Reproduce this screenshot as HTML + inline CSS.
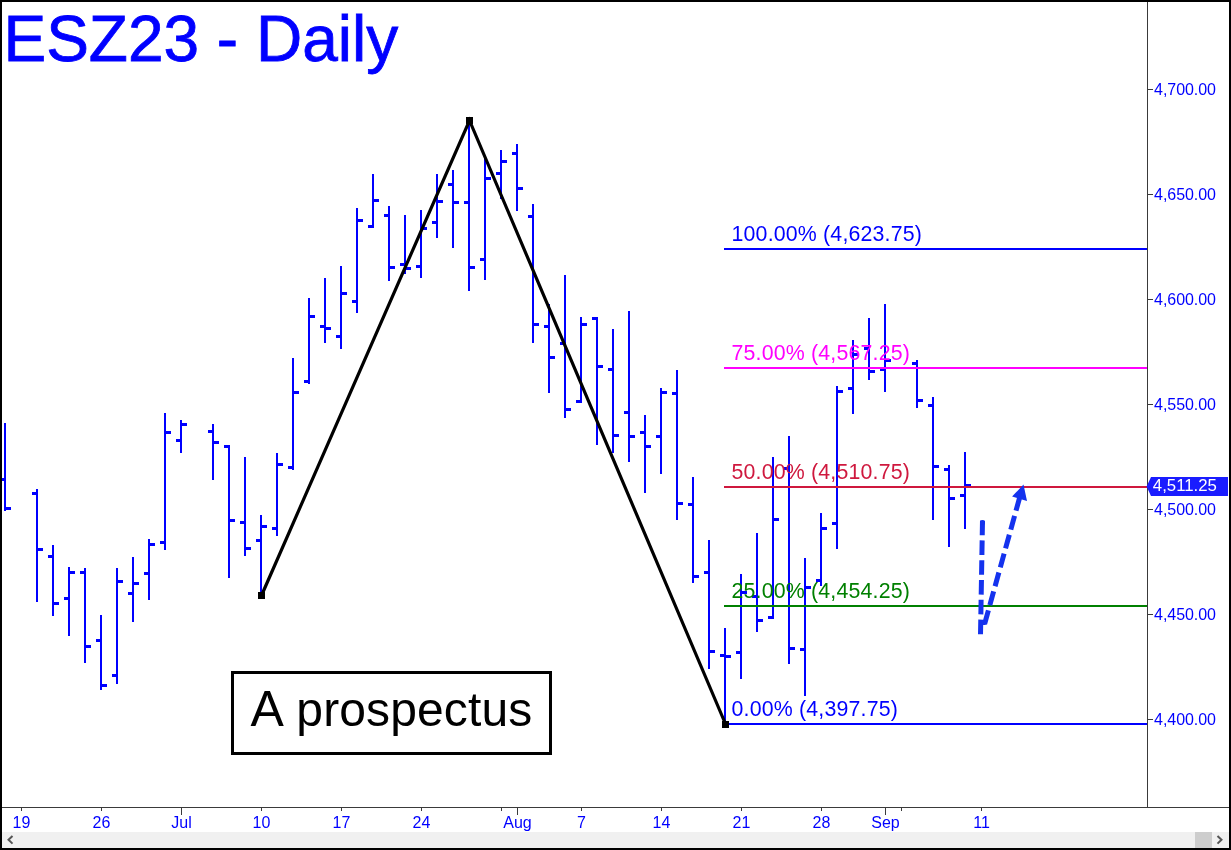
<!DOCTYPE html>
<html lang="en"><head><meta charset="utf-8"><title>ESZ23 - Daily</title>
<style>html,body{margin:0;padding:0;background:#fff;}body{width:1231px;height:850px;overflow:hidden;}svg{display:block;}text{font-family:"Liberation Sans",Arial,sans-serif;}</style></head><body>
<svg width="1231" height="850" viewBox="0 0 1231 850">
<rect x="0" y="0" width="1231" height="850" fill="#fff"/>
<g shape-rendering="crispEdges">
<rect x="2" y="832" width="1227" height="16" fill="#f0f0f0"/>
<rect x="1195" y="832" width="17" height="16" fill="#cdcdcd"/>
</g>
<path d="M12.5 836 L8.5 839.8 L12.5 843.6" fill="none" stroke="#555" stroke-width="2"/>
<path d="M1217.5 836 L1221.5 839.8 L1217.5 843.6" fill="none" stroke="#555" stroke-width="2"/>
<g fill="#0000ff" shape-rendering="crispEdges">
<rect x="4" y="423" width="2" height="88"/>
<rect x="0" y="478" width="4" height="3"/>
<rect x="6" y="507" width="5" height="3"/>
<rect x="36" y="489" width="2" height="113"/>
<rect x="32" y="492" width="4" height="3"/>
<rect x="38" y="548" width="5" height="3"/>
<rect x="52" y="545" width="2" height="71"/>
<rect x="48" y="555" width="4" height="3"/>
<rect x="54" y="602" width="5" height="3"/>
<rect x="68" y="567" width="2" height="69"/>
<rect x="64" y="597" width="4" height="3"/>
<rect x="70" y="571" width="5" height="3"/>
<rect x="84" y="568" width="2" height="95"/>
<rect x="80" y="571" width="4" height="3"/>
<rect x="86" y="645" width="5" height="3"/>
<rect x="100" y="615" width="2" height="75"/>
<rect x="96" y="639" width="4" height="3"/>
<rect x="102" y="684" width="5" height="3"/>
<rect x="116" y="568" width="2" height="116"/>
<rect x="112" y="674" width="4" height="3"/>
<rect x="118" y="580" width="5" height="3"/>
<rect x="132" y="557" width="2" height="65"/>
<rect x="128" y="592" width="4" height="3"/>
<rect x="134" y="582" width="5" height="3"/>
<rect x="148" y="539" width="2" height="61"/>
<rect x="144" y="572" width="4" height="3"/>
<rect x="150" y="543" width="5" height="3"/>
<rect x="164" y="413" width="2" height="137"/>
<rect x="160" y="541" width="4" height="3"/>
<rect x="166" y="431" width="5" height="3"/>
<rect x="180" y="420" width="2" height="33"/>
<rect x="176" y="439" width="4" height="3"/>
<rect x="182" y="423" width="5" height="3"/>
<rect x="212" y="424" width="2" height="56"/>
<rect x="208" y="430" width="4" height="3"/>
<rect x="214" y="441" width="5" height="3"/>
<rect x="228" y="445" width="2" height="133"/>
<rect x="224" y="445" width="4" height="3"/>
<rect x="230" y="519" width="5" height="3"/>
<rect x="244" y="457" width="2" height="99"/>
<rect x="240" y="521" width="4" height="3"/>
<rect x="246" y="547" width="5" height="3"/>
<rect x="260" y="515" width="2" height="80"/>
<rect x="256" y="539" width="4" height="3"/>
<rect x="262" y="525" width="5" height="3"/>
<rect x="276" y="453" width="2" height="83"/>
<rect x="272" y="527" width="4" height="3"/>
<rect x="278" y="463" width="5" height="3"/>
<rect x="292" y="358" width="2" height="112"/>
<rect x="288" y="466" width="4" height="3"/>
<rect x="294" y="391" width="5" height="3"/>
<rect x="308" y="298" width="2" height="86"/>
<rect x="304" y="380" width="4" height="3"/>
<rect x="310" y="315" width="5" height="3"/>
<rect x="324" y="278" width="2" height="65"/>
<rect x="320" y="325" width="4" height="3"/>
<rect x="326" y="327" width="5" height="3"/>
<rect x="340" y="266" width="2" height="83"/>
<rect x="336" y="335" width="4" height="3"/>
<rect x="342" y="292" width="5" height="3"/>
<rect x="356" y="208" width="2" height="105"/>
<rect x="352" y="300" width="4" height="3"/>
<rect x="358" y="219" width="5" height="3"/>
<rect x="372" y="174" width="2" height="54"/>
<rect x="368" y="225" width="4" height="3"/>
<rect x="374" y="199" width="5" height="3"/>
<rect x="388" y="206" width="2" height="75"/>
<rect x="384" y="214" width="4" height="3"/>
<rect x="390" y="266" width="5" height="3"/>
<rect x="404" y="215" width="2" height="59"/>
<rect x="400" y="263" width="4" height="3"/>
<rect x="406" y="267" width="5" height="3"/>
<rect x="420" y="210" width="2" height="68"/>
<rect x="416" y="265" width="4" height="3"/>
<rect x="422" y="227" width="5" height="3"/>
<rect x="436" y="174" width="2" height="64"/>
<rect x="432" y="221" width="4" height="3"/>
<rect x="438" y="200" width="5" height="3"/>
<rect x="452" y="170" width="2" height="78"/>
<rect x="448" y="183" width="4" height="3"/>
<rect x="454" y="201" width="5" height="3"/>
<rect x="468" y="121" width="2" height="170"/>
<rect x="464" y="201" width="4" height="3"/>
<rect x="470" y="266" width="5" height="3"/>
<rect x="484" y="158" width="2" height="122"/>
<rect x="480" y="258" width="4" height="3"/>
<rect x="486" y="177" width="5" height="3"/>
<rect x="500" y="150" width="2" height="49"/>
<rect x="496" y="172" width="4" height="3"/>
<rect x="502" y="160" width="5" height="3"/>
<rect x="516" y="144" width="2" height="67"/>
<rect x="512" y="152" width="4" height="3"/>
<rect x="518" y="187" width="5" height="3"/>
<rect x="532" y="204" width="2" height="139"/>
<rect x="528" y="215" width="4" height="3"/>
<rect x="534" y="323" width="5" height="3"/>
<rect x="548" y="304" width="2" height="89"/>
<rect x="544" y="325" width="4" height="3"/>
<rect x="550" y="356" width="5" height="3"/>
<rect x="564" y="275" width="2" height="143"/>
<rect x="560" y="342" width="4" height="3"/>
<rect x="566" y="408" width="5" height="3"/>
<rect x="580" y="317" width="2" height="86"/>
<rect x="576" y="400" width="4" height="3"/>
<rect x="582" y="323" width="5" height="3"/>
<rect x="596" y="317" width="2" height="128"/>
<rect x="592" y="317" width="4" height="3"/>
<rect x="598" y="365" width="5" height="3"/>
<rect x="612" y="329" width="2" height="124"/>
<rect x="608" y="368" width="4" height="3"/>
<rect x="614" y="434" width="5" height="3"/>
<rect x="628" y="311" width="2" height="151"/>
<rect x="624" y="411" width="4" height="3"/>
<rect x="630" y="435" width="5" height="3"/>
<rect x="644" y="415" width="2" height="78"/>
<rect x="640" y="431" width="4" height="3"/>
<rect x="646" y="445" width="5" height="3"/>
<rect x="660" y="388" width="2" height="86"/>
<rect x="656" y="435" width="4" height="3"/>
<rect x="662" y="391" width="5" height="3"/>
<rect x="676" y="370" width="2" height="150"/>
<rect x="672" y="392" width="4" height="3"/>
<rect x="678" y="502" width="5" height="3"/>
<rect x="692" y="477" width="2" height="106"/>
<rect x="688" y="503" width="4" height="3"/>
<rect x="694" y="575" width="5" height="3"/>
<rect x="708" y="540" width="2" height="129"/>
<rect x="704" y="571" width="4" height="3"/>
<rect x="710" y="650" width="5" height="3"/>
<rect x="724" y="628" width="2" height="95"/>
<rect x="720" y="654" width="4" height="3"/>
<rect x="726" y="655" width="5" height="3"/>
<rect x="740" y="574" width="2" height="105"/>
<rect x="736" y="651" width="4" height="3"/>
<rect x="742" y="591" width="5" height="3"/>
<rect x="756" y="533" width="2" height="99"/>
<rect x="752" y="595" width="4" height="3"/>
<rect x="758" y="619" width="5" height="3"/>
<rect x="772" y="457" width="2" height="162"/>
<rect x="768" y="616" width="4" height="3"/>
<rect x="774" y="518" width="5" height="3"/>
<rect x="788" y="436" width="2" height="228"/>
<rect x="784" y="467" width="4" height="3"/>
<rect x="790" y="647" width="5" height="3"/>
<rect x="804" y="558" width="2" height="138"/>
<rect x="800" y="648" width="4" height="3"/>
<rect x="806" y="586" width="5" height="3"/>
<rect x="820" y="513" width="2" height="73"/>
<rect x="816" y="579" width="4" height="3"/>
<rect x="822" y="527" width="5" height="3"/>
<rect x="836" y="386" width="2" height="163"/>
<rect x="832" y="522" width="4" height="3"/>
<rect x="838" y="390" width="5" height="3"/>
<rect x="852" y="340" width="2" height="74"/>
<rect x="848" y="387" width="4" height="3"/>
<rect x="854" y="353" width="5" height="3"/>
<rect x="868" y="318" width="2" height="62"/>
<rect x="864" y="347" width="4" height="3"/>
<rect x="870" y="370" width="5" height="3"/>
<rect x="884" y="304" width="2" height="88"/>
<rect x="880" y="368" width="4" height="3"/>
<rect x="886" y="359" width="5" height="3"/>
<rect x="916" y="360" width="2" height="48"/>
<rect x="912" y="362" width="4" height="3"/>
<rect x="918" y="399" width="5" height="3"/>
<rect x="932" y="397" width="2" height="123"/>
<rect x="928" y="404" width="4" height="3"/>
<rect x="934" y="465" width="5" height="3"/>
<rect x="948" y="465" width="2" height="82"/>
<rect x="944" y="468" width="4" height="3"/>
<rect x="950" y="497" width="5" height="3"/>
<rect x="964" y="452" width="2" height="77"/>
<rect x="960" y="494" width="4" height="3"/>
<rect x="966" y="484" width="5" height="3"/>
</g>
<g shape-rendering="crispEdges">
<rect x="724" y="248" width="423" height="2" fill="#0000ff"/>
<rect x="724" y="367" width="423" height="2" fill="#ff00ff"/>
<rect x="724" y="486" width="423" height="2" fill="#cf183e"/>
<rect x="724" y="605" width="423" height="2" fill="#008000"/>
<rect x="724" y="723" width="423" height="2" fill="#0000ff"/>
</g>
<g font-size="21.33px" letter-spacing="0.18px">
<text x="731.5" y="241.3" fill="#0000ff">100.00% (4,623.75)</text>
<text x="731.5" y="360.3" fill="#ff00ff">75.00% (4,567.25)</text>
<text x="731.5" y="479.3" fill="#cf183e">50.00% (4,510.75)</text>
<text x="731.5" y="598.3" fill="#008000">25.00% (4,454.25)</text>
<text x="731.5" y="716.3" fill="#0000ff">0.00% (4,397.75)</text>
</g>
<polyline points="261.5,595.5 469.5,120.5 725.5,724" fill="none" stroke="#000" stroke-width="3.2" stroke-linejoin="miter"/>
<g fill="#000" shape-rendering="crispEdges"><rect x="258" y="592" width="7" height="7"/><rect x="466" y="117" width="7" height="7"/><rect x="722" y="721" width="7" height="7"/></g>
<g fill="none" stroke="#1432ee" stroke-width="5">
<line x1="982.5" y1="520.6" x2="980.5" y2="635" stroke-dasharray="14.6 5.2"/>
<line x1="984.6" y1="624" x2="1020" y2="496.3" stroke-dasharray="14.2 5.4"/>
</g>
<circle cx="982.5" cy="522.6" r="2.5" fill="#1432ee"/>
<circle cx="984" cy="622.5" r="2.6" fill="#1432ee"/>
<polygon points="1023.5,484.6 1012.1,496.5 1027,500.9" fill="#1432ee"/>
<g fill="#3a3a3a" shape-rendering="crispEdges">
<rect x="1147" y="2" width="1" height="806"/>
<rect x="2" y="807" width="1227" height="1"/>
<rect x="1147" y="89" width="6" height="1"/>
<rect x="1147" y="194" width="6" height="1"/>
<rect x="1147" y="299" width="6" height="1"/>
<rect x="1147" y="404" width="6" height="1"/>
<rect x="1147" y="509" width="6" height="1"/>
<rect x="1147" y="614" width="6" height="1"/>
<rect x="1147" y="719" width="6" height="1"/>
<rect x="21" y="807" width="1" height="4"/>
<rect x="101" y="807" width="1" height="4"/>
<rect x="181" y="807" width="1" height="8"/>
<rect x="261" y="807" width="1" height="4"/>
<rect x="341" y="807" width="1" height="4"/>
<rect x="421" y="807" width="1" height="4"/>
<rect x="501" y="807" width="1" height="4"/>
<rect x="517" y="807" width="1" height="8"/>
<rect x="581" y="807" width="1" height="4"/>
<rect x="661" y="807" width="1" height="4"/>
<rect x="741" y="807" width="1" height="4"/>
<rect x="821" y="807" width="1" height="4"/>
<rect x="885" y="807" width="1" height="8"/>
<rect x="901" y="807" width="1" height="4"/>
<rect x="981" y="807" width="1" height="4"/>
</g>
<g font-size="16px" fill="#0000ff">
<text x="1154.1" y="94.5" letter-spacing="-0.06px">4,700.00</text>
<text x="1154.1" y="199.5" letter-spacing="-0.06px">4,650.00</text>
<text x="1154.1" y="304.5" letter-spacing="-0.06px">4,600.00</text>
<text x="1154.1" y="409.5" letter-spacing="-0.06px">4,550.00</text>
<text x="1154.1" y="514.5" letter-spacing="-0.06px">4,500.00</text>
<text x="1154.1" y="619.5" letter-spacing="-0.06px">4,450.00</text>
<text x="1154.1" y="724.5" letter-spacing="-0.06px">4,400.00</text>
<text x="21.5" y="828" text-anchor="middle">19</text>
<text x="101.5" y="828" text-anchor="middle">26</text>
<text x="181.5" y="828" text-anchor="middle">Jul</text>
<text x="261.5" y="828" text-anchor="middle">10</text>
<text x="341.5" y="828" text-anchor="middle">17</text>
<text x="421.5" y="828" text-anchor="middle">24</text>
<text x="517.5" y="828" text-anchor="middle">Aug</text>
<text x="581.5" y="828" text-anchor="middle">7</text>
<text x="661.5" y="828" text-anchor="middle">14</text>
<text x="741.5" y="828" text-anchor="middle">21</text>
<text x="821.5" y="828" text-anchor="middle">28</text>
<text x="885.5" y="828" text-anchor="middle">Sep</text>
<text x="981.5" y="828" text-anchor="middle">11</text>
</g>
<polygon points="1146.6,486.5 1151,477 1228,477 1228,496 1151,496" fill="#1a1cff"/>
<text x="1152.8" y="491" font-size="16.8px" fill="#fff">4,511.25</text>
<text x="3.5" y="59.6" font-size="64px" fill="#0000ff" stroke="#0000ff" stroke-width="0.8" transform="scale(1,1.02)">ESZ23 - Daily</text>
<rect x="232.5" y="672.5" width="318" height="81" fill="#fff" stroke="#000" stroke-width="3" shape-rendering="crispEdges"/>
<text x="250.6" y="726" font-size="48px" letter-spacing="0.12px" fill="#000"><tspan font-size="50px">A</tspan><tspan dx="-1.2"> prospectus</tspan></text>
<g fill="#000" shape-rendering="crispEdges"><rect x="0" y="0" width="1231" height="2"/><rect x="0" y="848" width="1231" height="2"/><rect x="0" y="0" width="2" height="850"/><rect x="1229" y="0" width="2" height="850"/></g>
</svg></body></html>
